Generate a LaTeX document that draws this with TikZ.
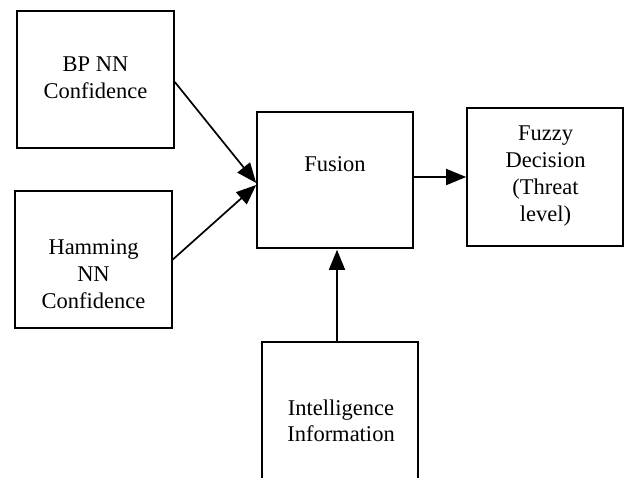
\documentclass[tikz,border=0pt]{standalone}
\usepackage{fontspec}
\setmainfont{Liberation Serif}
\usetikzlibrary{arrows.meta}
\begin{document}
\begin{tikzpicture}[x=1pt,y=-1pt,
  box/.style={draw, line width=1.6pt, inner sep=0pt, rectangle},
  lbl/.style={font=\fontsize{22.5}{26.7}\selectfont, align=center, inner sep=0pt, anchor=base},
  arr/.style={line width=1.7pt, -{Triangle[length=20pt,width=16pt]}}]
\useasboundingbox (0,0) rectangle (626,477);
\clip (0,0) rectangle (626,477);
% boxes
\node[box, minimum width=157pt, minimum height=137pt] (bp) at (95.5,79.5) {};
\node[box, minimum width=157pt, minimum height=137pt] (ham) at (93.5,259.5) {};
\node[box, minimum width=156pt, minimum height=136pt] (fusion) at (335,180) {};
\node[box, minimum width=156pt, minimum height=138pt] (fuzzy) at (545,177) {};
\node[box, minimum width=156pt, minimum height=180pt] (intel) at (340,432) {};
% texts (base = baseline of last line)
\node[lbl] (tbp) at (95.5,98) {BP NN\\Confidence};
\node[lbl] (tham) at (93.5,308) {Hamming\\NN\\Confidence};
\node[lbl] (tfus) at (335,171) {Fusion};
\node[lbl] (tfuz) at (545.5,221) {Fuzzy\\Decision\\(Threat\\level)};
\node[lbl] (tint) at (341,441.7) {Intelligence\\Information};
% arrows
\draw[arr] ([yshift=-2.5pt]bp.east) -- ([yshift=-3pt]fusion.west);
\draw[arr] (ham.east) -- ([yshift=-5pt]fusion.west);
\draw[arr] (fusion.east |- fuzzy.west) -- (fuzzy.west);
\draw[arr] ([xshift=-3pt]intel.north) -- ([xshift=2pt,yshift=-1pt]fusion.south);
\end{tikzpicture}
\end{document}
